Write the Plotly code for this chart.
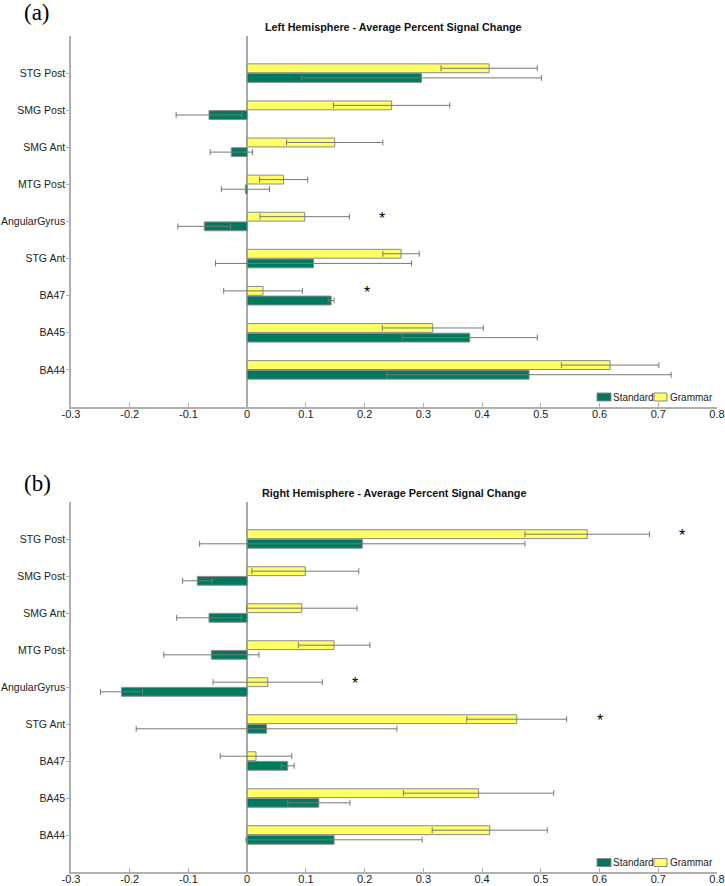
import plotly.graph_objects as go

# categories, bottom to top
categories = ["BA44", "BA45", "BA47", "STG Ant", "AngularGyrus", "MTG Post", "SMG Ant", "SMG Post", "STG Post"]
x_ticks = [-0.3, -0.2, -0.1, 0, 0.1, 0.2, 0.3, 0.4, 0.5, 0.6, 0.7, 0.8]
x_tick_labels = ["-0.3", "-0.2", "-0.1", "0", "0.1", "0.2", "0.3", "0.4", "0.5", "0.6", "0.7", "0.8"]
series_names = ["Standard", "Grammar"]

# (a) Left hemisphere
left_standard = [0.480, 0.379, 0.143, 0.113, -0.073, -0.003, -0.027, -0.065, 0.297]
left_standard_err = [0.242, 0.115, 0.005, 0.167, 0.045, 0.041, 0.036, 0.056, 0.204]
left_grammar = [0.618, 0.316, 0.027, 0.262, 0.098, 0.062, 0.149, 0.246, 0.412]
left_grammar_err = [0.083, 0.086, 0.067, 0.031, 0.076, 0.041, 0.082, 0.099, 0.082]
left_star_cats = ["AngularGyrus", "BA47"]
left_star_x = [0.230, 0.204]

# (b) Right hemisphere
right_standard = [0.148, 0.122, 0.069, 0.033, -0.214, -0.061, -0.065, -0.085, 0.196]
right_standard_err = [0.150, 0.053, 0.011, 0.222, 0.036, 0.081, 0.055, 0.025, 0.277]
right_grammar = [0.413, 0.394, 0.015, 0.459, 0.035, 0.148, 0.093, 0.099, 0.579]
right_grammar_err = [0.098, 0.128, 0.061, 0.085, 0.093, 0.061, 0.094, 0.091, 0.106]
right_star_cats = ["STG Post", "AngularGyrus", "STG Ant"]
right_star_x = [0.740, 0.183, 0.600]

titles = ["Left Hemisphere - Average Percent Signal Change",
          "Right Hemisphere - Average Percent Signal Change"]
panel_labels = ["(a)", "(b)"]

GREEN = "#007a5e"
YELLOW = "#ffff66"
EDGE = "#8a8a8a"
ERR = "#777777"
FONT = "Liberation Sans"

W, H = 725, 886


def px(sx):
    return sx / W


def py(sy):
    return 1 - sy / H


x_dom = [px(71), px(717)]
y_doms = [[py(407), py(36)], [py(872), py(502)]]
legend_y = [397, 862.5]

fig = go.Figure()

panels = [
    (left_standard, left_standard_err, left_grammar, left_grammar_err, left_star_cats, left_star_x),
    (right_standard, right_standard_err, right_grammar, right_grammar_err, right_star_cats, right_star_x),
]

for i, (s, se, g, ge, sc, sx) in enumerate(panels):
    xa = "x" if i == 0 else "x2"
    ya = "y" if i == 0 else "y2"
    fig.add_trace(go.Bar(
        y=categories, x=s, orientation="h", name=series_names[0], showlegend=False,
        marker=dict(color=GREEN, line=dict(color=EDGE, width=1)),
        error_x=dict(type="data", array=se, color=ERR, thickness=1, width=3),
        xaxis=xa, yaxis=ya,
    ))
    fig.add_trace(go.Bar(
        y=categories, x=g, orientation="h", name=series_names[1], showlegend=False,
        marker=dict(color=YELLOW, line=dict(color=EDGE, width=1)),
        error_x=dict(type="data", array=ge, color=ERR, thickness=1, width=3),
        xaxis=xa, yaxis=ya,
    ))
    for c, xv in zip(sc, sx):
        fig.add_annotation(x=xv, y=categories.index(c) + 0.17, xref=xa, yref=ya,
                           text="*", showarrow=False,
                           font=dict(family=FONT, size=16, color="black"),
                           yshift=-3)
    fig.add_annotation(x=(x_dom[0] + x_dom[1]) / 2, y=y_doms[i][1], xref="paper", yref="paper",
                       yanchor="bottom", xanchor="center", yshift=1,
                       text="<b>" + titles[i] + "</b>", showarrow=False,
                       font=dict(family=FONT, size=10.8, color="#111"))
    fig.add_annotation(x=px(22), y=py(12.5 if i == 0 else 483.5), xref="paper", yref="paper",
                       xanchor="left", yanchor="middle",
                       text=panel_labels[i], showarrow=False,
                       font=dict(family="Liberation Serif", size=23, color="black"))
    # compact legend, as in the reference
    ly = legend_y[i]
    for (x0, x1, col), (tx, name) in zip([(597, 611, GREEN), (654, 667, YELLOW)],
                                         [(610.5, series_names[0]), (667.5, series_names[1])]):
        fig.add_shape(type="rect", xref="paper", yref="paper",
                      x0=px(x0), x1=px(x1), y0=py(ly - 4), y1=py(ly + 4),
                      fillcolor=col, line=dict(color=EDGE, width=1))
        fig.add_annotation(x=px(tx), y=py(ly), xref="paper", yref="paper",
                           xanchor="left", yanchor="middle", text=name, showarrow=False,
                           font=dict(family=FONT, size=10, color="#222"))

axis_common_x = dict(
    range=[-0.3, 0.8], tickvals=x_ticks, ticktext=x_tick_labels,
    showline=True, linecolor="#b0b0b0", linewidth=1.5, mirror=False,
    ticks="inside", ticklen=4, tickcolor="#b0b0b0",
    showgrid=False, zeroline=True, zerolinecolor="#a8a8a8", zerolinewidth=1.5,
    tickfont=dict(family=FONT, size=11, color="#222"),
    domain=x_dom, automargin=False, ticklabelstandoff=-4,
)
axis_common_y = dict(
    type="category", categoryorder="array", categoryarray=categories,
    range=[-1, 9], showline=True, linecolor="#b0b0b0", linewidth=1.5,
    ticks="outside", ticklen=3, tickcolor="#b0b0b0", showgrid=False,
    tickfont=dict(family=FONT, size=10.5, color="#222"), automargin=False,
    ticklabelstandoff=-1,
)

fig.update_layout(
    width=W, height=H,
    margin=dict(l=0, r=0, t=0, b=0, autoexpand=False),
    paper_bgcolor="white", plot_bgcolor="white",
    barmode="group", bargap=0.48, bargroupgap=0.08,
    xaxis=dict(axis_common_x, anchor="y"),
    yaxis=dict(axis_common_y, domain=y_doms[0], anchor="x"),
    xaxis2=dict(axis_common_x, anchor="y2"),
    yaxis2=dict(axis_common_y, domain=y_doms[1], anchor="x2"),
    showlegend=False,
)

fig.write_html("out.html", config={"displayModeBar": False},
               post_script="document.body.style.margin='0px';")
